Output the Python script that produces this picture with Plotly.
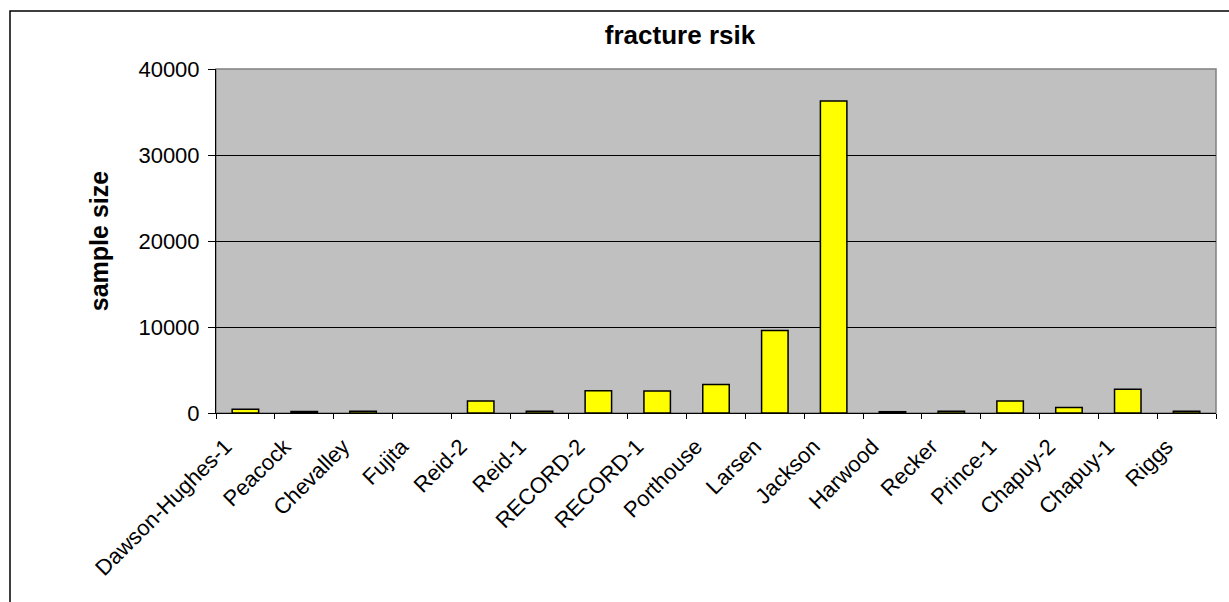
import plotly.graph_objects as go

# Trials and their sample sizes
trials = ["Dawson-Hughes-1", "Peacock", "Chevalley", "Fujita", "Reid-2", "Reid-1",
          "RECORD-2", "RECORD-1", "Porthouse", "Larsen", "Jackson", "Harwood",
          "Recker", "Prince-1", "Chapuy-2", "Chapuy-1", "Riggs"]
sample_size = [445, 180, 200, 0, 1400, 200,
               2600, 2550, 3314, 9605, 36282, 150,
               200, 1400, 640, 2750, 200]
y_ticks = [0, 10000, 20000, 30000, 40000]

W, H = 1229, 602
L, R, T, B = 216, 13, 69, 189
plot_w = W - L - R
plot_h = H - T - B

FONT = "Liberation Sans, Arial, sans-serif"

# empty bars get no outline so nothing is drawn for them
outline = [1.5 if v > 0 else 0 for v in sample_size]

fig = go.Figure(go.Bar(
    x=trials,
    y=sample_size,
    marker=dict(color="#FFFF00", line=dict(color="#000000", width=outline)),
))

fig.update_layout(
    width=W, height=H,
    margin=dict(l=L, r=R, t=T, b=B, autoexpand=False),
    paper_bgcolor="white",
    plot_bgcolor="#C0C0C0",
    bargap=0.55,
    showlegend=False,
    font=dict(family=FONT, size=22, color="black"),
    title=dict(
        text="<b>fracture rsik</b>",
        font=dict(family=FONT, size=26, color="black"),
        xref="paper", x=(680 - L) / plot_w, xanchor="center",
        yref="container", y=1 - 35 / H, yanchor="middle",
    ),
    xaxis=dict(
        type="category",
        tickangle=-45,
        tickson="boundaries",
        ticks="outside", ticklen=5, tickcolor="black", tickwidth=1,
        showline=True, linecolor="black", linewidth=1,
        showgrid=False,
        tickfont=dict(family=FONT, size=22, color="black"),
        ticklabelshift=-20,
        ticklabelstandoff=11,
        automargin=False,
    ),
    yaxis=dict(
        range=[0, 40000],
        tickvals=y_ticks,
        ticktext=[str(v) for v in y_ticks],
        ticks="outside", ticklen=7, tickcolor="black", tickwidth=1,
        showline=True, linecolor="black", linewidth=1,
        showgrid=True, gridcolor="black", gridwidth=1,
        zeroline=False,
        tickfont=dict(family=FONT, size=22, color="black"),
        ticklabelstandoff=4,
        title=dict(text="<b>sample size</b>",
                   font=dict(family=FONT, size=25, color="black"),
                   standoff=22),
        automargin=False,
    ),
    shapes=[
        # grey border around the plotting area
        dict(type="rect", xref="paper", yref="paper", x0=0, x1=1, y0=0, y1=1,
             line=dict(color="#808080", width=1.5), layer="below"),
        # outer chart frame
        dict(type="rect", xref="paper", yref="paper",
             x0=(10 - L) / plot_w, x1=1.1,
             y0=-0.8, y1=(H - B - 11) / plot_h,
             line=dict(color="black", width=1.5), layer="above"),
    ],
)

fig.write_html("out.html")
